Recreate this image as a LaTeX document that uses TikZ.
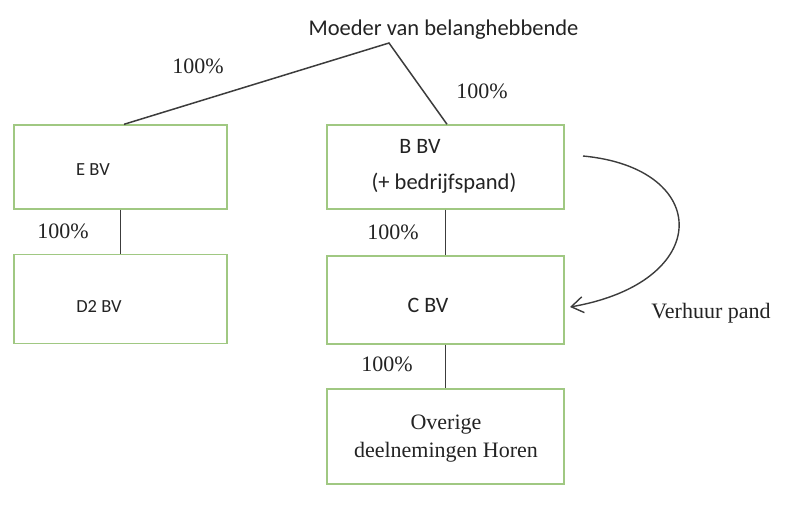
\documentclass[tikz,border=0pt]{standalone}
\usepackage{fontspec}
\setmainfont{Liberation Serif}
\newfontfamily\sansf{Carlito}
\usetikzlibrary{arrows.meta}
\definecolor{boxgreen}{RGB}{160,200,130}
\definecolor{linegray}{RGB}{60,60,60}
\definecolor{txtgray}{RGB}{35,35,35}
\tikzset{
  box/.style={draw=boxgreen, line width=1.4pt, rectangle, inner sep=0pt},
  conn/.style={draw=linegray, line width=1.5pt},
  pct/.style={font=\fontsize{22}{26}\selectfont, text=txtgray, inner sep=0pt},
  sanslbl/.style={font=\sansf\fontsize{#1}{#1}\selectfont, text=txtgray, inner sep=0pt},
  seriflbl/.style={font=\fontsize{22}{28}\selectfont, text=txtgray, inner sep=0pt, align=center},
}
\begin{document}
\begin{tikzpicture}[x=1pt, y=-1pt]
\useasboundingbox (0,0) rectangle (800,504);
% boxes
\node[box, minimum width=213pt, minimum height=84pt] (e) at (120.5,167) {};
\node[box, minimum width=237pt, minimum height=84pt] (b) at (445.5,167) {};
\node[box, minimum width=213pt, minimum height=89pt] (d) at (120.5,299) {};
\node[box, minimum width=237pt, minimum height=88pt] (c) at (445.5,300) {};
\node[box, minimum width=237pt, minimum height=95pt] (o) at (445.5,436.5) {};
% texts
\node[sanslbl=22.5] (moeder) at (443.5,30) {Moeder van belanghebbende};
\node[sanslbl=18.5] (et) at (93,170) {E BV};
\node[sanslbl=18.5] (dt) at (99,306) {D2 BV};
\node[sanslbl=22] (bt) at (420,146) {B BV};
\node[sanslbl=22.5] (bt2) at (444,183) {(+ bedrijfspand)};
\node[sanslbl=22] (ct) at (428,305) {C BV};
\node[seriflbl] (ot) at (446,439) {Overige\\deelnemingen Horen};
\node[seriflbl] (vp) at (711,313) {Verhuur pand};
% percentages
\node[pct] (p1) at (198,66) {100\%};
\node[pct] (p2) at (482,91) {100\%};
\node[pct] (p3) at (63,231) {100\%};
\node[pct] (p4) at (393,232) {100\%};
\node[pct] (p5) at (387,364) {100\%};
% connectors
\coordinate (apex) at (389,43);
\draw[conn] ([xshift=3.5pt]e.north) -- (apex) -- ([xshift=1.5pt]b.north);
\draw[conn] (e.south) -- (d.north);
\draw[conn] (b.south) -- (c.north);
\draw[conn] (c.south) -- (o.north);
\coordinate (arrs) at (583,156);
\coordinate (arre) at (570,307);
\draw[conn, line width=1.4pt, -{Straight Barb[length=12pt,width=16pt]}] (arrs) .. controls (712,168) and (714,282) .. (arre);
\end{tikzpicture}
\end{document}
